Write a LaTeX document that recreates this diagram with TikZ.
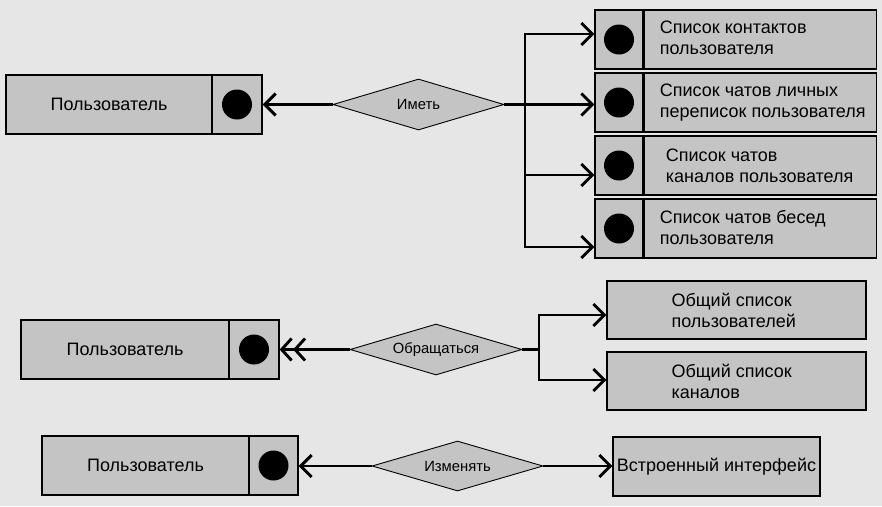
\documentclass[tikz,border=0pt]{standalone}
\usepackage{fontspec}
\setmainfont{Liberation Sans}
\usetikzlibrary{arrows.meta,shapes.geometric}
\definecolor{bg}{HTML}{E6E6E6}
\definecolor{boxfill}{HTML}{C4C4C4}
\begin{document}
\begin{tikzpicture}[x=1pt,y=-1pt,
  ent/.style={draw, fill=boxfill, line width=1.3pt, rectangle, inner sep=0pt, minimum height=59pt},
  rel/.style={draw, fill=boxfill, line width=0.9pt, diamond, aspect=3.35, inner sep=0pt,
              minimum width=171pt, minimum height=51pt, font=\fontsize{14.8}{17}\selectfont},
  keydot/.style={circle, fill=black, minimum size=30pt, inner sep=0pt},
  txt/.style={font=\fontsize{18}{21}\selectfont, align=left, inner sep=0pt},
  conn/.style={line width=2.9pt},
  onetip/.style={-{Straight Barb[length=11pt,width=22pt]}},
  twotip/.style={-{Straight Barb[length=10pt,width=22pt] Straight Barb[length=10pt,width=22pt]}}
]
\fill[bg] (0,0) rectangle (882,506);
\useasboundingbox (0,0) rectangle (882,506);

% ---------- Row 1 ----------
\node[ent, minimum width=206pt, font=\fontsize{18}{21}\selectfont] (u1) at (109,104.5) {Пользователь};
\node[ent, minimum width=50pt] (u1k) at (237,104.5) {};
\node[keydot] (u1d) at (u1k.center) {};
\node[rel] (d1) at (418.5,104.5) {Иметь};
\coordinate (j1) at (525,104.5);

\node[ent, minimum width=48pt] (r1k) at (619,39.5) {};
\node[ent, minimum width=232pt, anchor=west] (r1) at (r1k.east) {};
\node[keydot] (r1d) at (r1k.center) {};
\node[txt, anchor=west] (r1t) at ([xshift=16pt,yshift=2pt]r1.west) {Список контактов\\пользователя};

\node[ent, minimum width=48pt] (r2k) at (619,102.5) {};
\node[ent, minimum width=232pt, anchor=west] (r2) at (r2k.east) {};
\node[keydot] (r2d) at (r2k.center) {};
\node[txt, anchor=west] (r2t) at ([xshift=16pt,yshift=0pt]r2.west) {Список чатов личных\\переписок пользователя};

\node[ent, minimum width=48pt] (r3k) at (619,165.5) {};
\node[ent, minimum width=232pt, anchor=west] (r3) at (r3k.east) {};
\node[keydot] (r3d) at (r3k.center) {};
\node[txt, anchor=west] (r3t) at ([xshift=22pt,yshift=0pt]r3.west) {Список чатов\\каналов пользователя};

\node[ent, minimum width=48pt] (r4k) at (619,228.5) {};
\node[ent, minimum width=232pt, anchor=west] (r4) at (r4k.east) {};
\node[keydot] (r4d) at (r4k.center) {};
\node[txt, anchor=west] (r4t) at ([xshift=16pt,yshift=1pt]r4.west) {Список чатов бесед\\пользователя};

\draw[conn, onetip] (d1.west) -- (u1k.east);
\draw[conn] (d1.east) -- (j1);
\draw[conn, onetip] (j1) |- ([yshift=5.5pt]r1k.west);
\draw[conn, onetip] (j1) -- (r2k.west |- j1);
\draw[conn, onetip] (j1) |- ([yshift=-9.5pt]r3k.west);
\draw[conn, onetip] (j1) |- ([yshift=-18.5pt]r4k.west);

% ---------- Row 2 ----------
\node[ent, minimum width=208pt, font=\fontsize{18}{21}\selectfont] (u2) at (125,349.5) {Пользователь};
\node[ent, minimum width=50pt] (u2k) at (254,349.5) {};
\node[keydot] (u2d) at (u2k.center) {};
\node[rel, minimum width=172pt] (d2) at (436,349.5) {Обращаться};
\coordinate (j2) at (539,349.5);

\node[ent, minimum width=259pt, minimum height=58pt] (s1) at (736.5,310) {};
\node[txt, anchor=west] (s1t) at ([xshift=65pt]s1.west) {Общий список\\пользователей};
\node[ent, minimum width=259pt, minimum height=58pt] (s2) at (736.5,381) {};
\node[txt, anchor=west] (s2t) at ([xshift=65pt]s2.west) {Общий список\\каналов};

\draw[conn, twotip] (d2.west) -- (u2k.east);
\draw[conn] (d2.east) -- (j2);
\draw[conn, onetip] (j2) |- ([yshift=-5pt]s1.west);
\draw[conn, onetip] (j2) |- ([yshift=1pt]s2.west);

% ---------- Row 3 ----------
\node[ent, minimum width=207pt, font=\fontsize{18}{21}\selectfont] (u3) at (145.5,465.5) {Пользователь};
\node[ent, minimum width=49pt] (u3k) at (273.5,465.5) {};
\node[keydot] (u3d) at (u3k.center) {};
\node[rel, minimum height=50pt] (d3) at (457.5,466) {Изменять};
\node[ent, minimum width=207pt, font=\fontsize{18}{21}\selectfont] (b3) at (716.5,466.5) {Встроенный интерфейс};

\draw[conn, onetip] (d3.west) -- (u3k.east |- d3.west);
\draw[conn, onetip] (d3.east) -- (b3.west |- d3.east);
\end{tikzpicture}
\end{document}
